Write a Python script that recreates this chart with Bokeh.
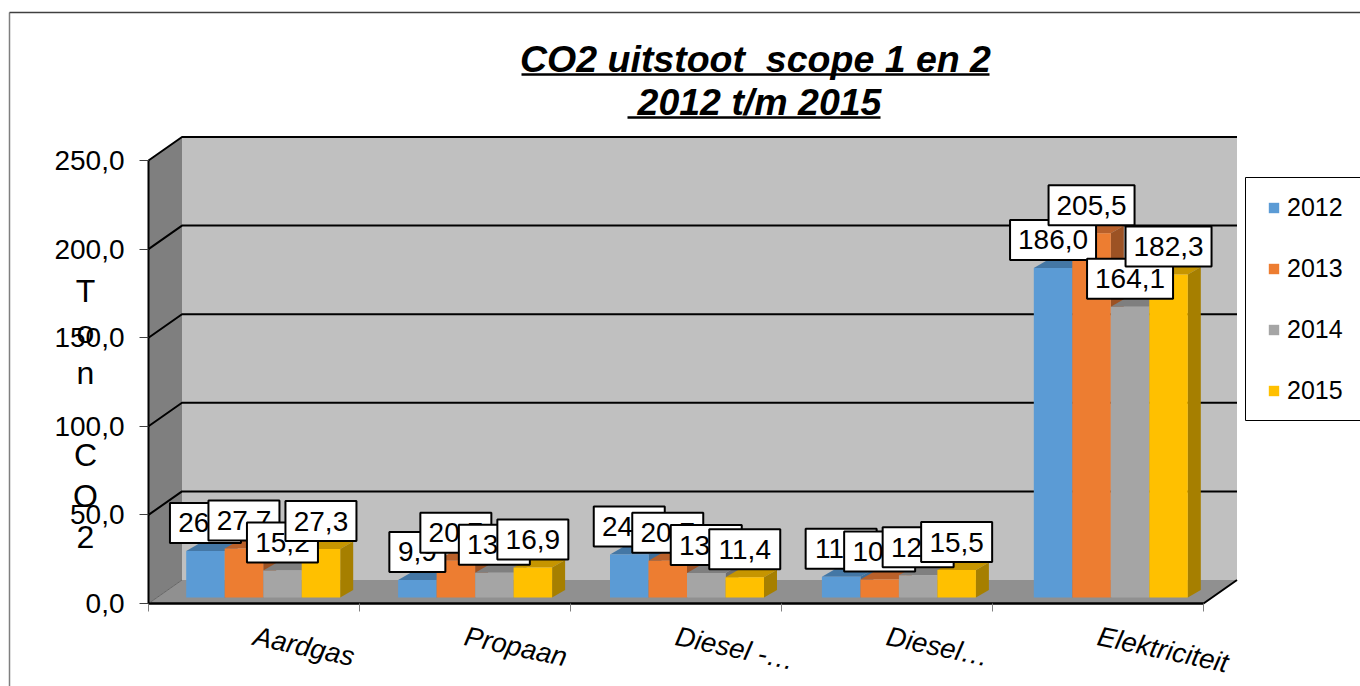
from bokeh.plotting import figure
from bokeh.embed import file_html
from bokeh.resources import INLINE
from bokeh.core.properties import value
from bokeh.models import FixedTicker, Legend, LegendItem

categories = ["Aardgas", "Propaan", "Diesel -…", "Diesel…", "Elektriciteit"]
years = ["2012", "2013", "2014", "2015"]
s2012 = [26.3, 9.9, 24.3, 11.7, 186.0]
s2013 = [27.7, 20.7, 20.7, 10.2, 205.5]
s2014 = [15.2, 13.9, 13.8, 12.6, 164.1]
s2015 = [27.3, 16.9, 11.4, 15.5, 182.3]
series = [s2012, s2013, s2014, s2015]
y_ticks = [0, 50, 100, 150, 200, 250]
y_labels = ["0,0", "50,0", "100,0", "150,0", "200,0", "250,0"]
front = ["#5B9BD5", "#ED7D31", "#A5A5A5", "#FFC000"]
top = ["#4477A5", "#B9602A", "#7F7F7F", "#C69500"]
side = ["#3F6F9B", "#9C5224", "#6E6E6E", "#A67F00"]
FONT = value("Liberation Sans")

# pixel geometry of the chart
W, H = 1360, 686
X0, PX_X = 148.0, 211.0
Y0, PX_Y = 603.0, 1.772
def px(x): return (x - X0) / PX_X
def py(y): return (Y0 - y) / PX_Y

p = figure(width=W, height=H, output_backend="svg", toolbar_location=None,
           x_range=(px(0), px(W)), y_range=(py(H), py(0)),
           min_border=0, outline_line_color=None, background_fill_color="white")
p.grid.visible = False

DX_W, DY_W = 33.5 / PX_X, 23.5 / PX_Y      # depth of the walls
DX_B, DY_B = 13 / PX_X, 7.5 / PX_Y         # depth of a bar
BASE = 6 / PX_Y
BAR = 38.5 / PX_X
GROUP_PITCH = 211.9 / PX_X
G0 = 37.7 / PX_X

# chart frame
p.line([px(9), px(9)], [py(686), py(12)], line_color="#7F7F7F", line_width=1.5)
p.line([px(9), px(1360)], [py(12), py(12)], line_color="#404040", line_width=1.5)

# walls
n = len(categories)
p.patch([0, DX_W, DX_W, 0], [0, DY_W, 250 + DY_W, 250], fill_color="#7F7F7F", line_color=None)
p.patch([DX_W, n + DX_W, n + DX_W, DX_W], [DY_W, DY_W, 250 + DY_W, 250 + DY_W], fill_color="#C0C0C0", line_color=None)
p.patch([0, n, n + DX_W, DX_W], [0, 0, DY_W, DY_W], fill_color="#909090", line_color=None)
for t in y_ticks[1:]:
    p.line([0, DX_W, n + DX_W], [t, t + DY_W, t + DY_W], line_color="black", line_width=2)
p.line([0, n, n + DX_W], [0, 0, DY_W], line_color="black", line_width=2)
p.line([0, DX_W], [0, DY_W], line_color="#666666", line_width=1)

# bars
legend_r = {}
for i in range(n):
    for j, s in enumerate(series):
        l = i * GROUP_PITCH + G0 + j * BAR
        r = l + BAR
        v = s[i] + BASE
        p.patch([l, r, r + DX_B, l + DX_B], [v, v, v + DY_B, v + DY_B], fill_color=top[j], line_color=None)
        p.patch([r, r + DX_B, r + DX_B, r], [BASE, BASE + DY_B, v + DY_B, v], fill_color=side[j], line_color=None)
        legend_r[j] = p.vbar(x=[(l + r) / 2], width=BAR, bottom=BASE, top=[v], fill_color=front[j], line_color=None)

# data labels
for i in range(n):
    for j, s in enumerate(series):
        x = i * GROUP_PITCH + G0 + (j + 0.5) * BAR
        y = s[i] + BASE + 28 / PX_Y
        txt = f"{s[i]:.1f}".replace(".", ",")
        w = {3: 56, 4: 71, 5: 86}[len(txt)]
        p.rect(x=[x], y=[y], width=w, height=40, width_units="screen", height_units="screen",
               fill_color="white", line_color="black", line_width=2)
        p.text(x=[x], y=[y], text=[txt], text_font=FONT, text_font_size="28px",
               text_align="center", text_baseline="middle", text_color="black")

# axes
ya = p.yaxis[0]
ya.fixed_location = 0
ya.bounds = (0, 250)
ya.ticker = FixedTicker(ticks=y_ticks)
ya.major_label_overrides = dict(zip(y_ticks, y_labels))
ya.major_label_text_font = "Liberation Sans"
ya.major_label_text_font_size = "28px"
ya.major_label_text_color = "black"
ya.major_label_standoff = 15
ya.major_tick_in = 0
ya.major_tick_out = 9
ya.major_tick_line_color = "#404040"
ya.minor_tick_line_color = None
ya.axis_line_color = "black"
ya.axis_line_width = 2

xa = p.xaxis[0]
xa.fixed_location = 0
xa.bounds = (0, n)
xa.ticker = FixedTicker(ticks=[i + 0.5 for i in range(n)], minor_ticks=list(range(n + 1)))
xa.major_label_overrides = {i + 0.5: c for i, c in enumerate(categories)}
xa.major_label_orientation = -0.21
xa.major_label_text_font = "Liberation Sans"
xa.major_label_text_font_style = "italic"
xa.major_label_text_font_size = "27.5px"
xa.major_label_text_color = "black"
xa.major_label_standoff = 24
xa.major_tick_in = 0
xa.major_tick_out = 0
xa.minor_tick_in = 0
xa.minor_tick_out = 8
xa.minor_tick_line_color = "#808080"
xa.axis_line_color = "black"
xa.axis_line_width = 2

# y axis title, stacked
p.text(x=[px(85)], y=[py(272)], text=["T\no\nn\n \nC\nO\n2"], text_font=FONT, text_font_size="32px",
       text_align="center", text_baseline="top", text_color="black", text_line_height=1.14)

# title
for txt, cx, cy, ul_y, ul0, ul1 in [("CO2 uitstoot\u00a0\u00a0scope 1 en 2", 755, 58, 74, 521, 989),
                                    ("2012 t/m 2015", 759, 101.5, 117, 627, 880)]:
    p.text(x=[px(cx)], y=[py(cy)], text=[txt], text_font=FONT, text_font_style="bold italic",
           text_font_size="37.5px", text_align="center", text_baseline="middle", text_color="black")
    p.line([px(ul0), px(ul1)], [py(ul_y), py(ul_y)], line_color="black", line_width=2.5)

# legend box, then the legend itself
p.quad(left=[px(1245)], right=[px(1400)], bottom=[py(420)], top=[py(177)],
       fill_color="white", line_color="black", line_width=1)
leg = Legend(items=[LegendItem(label=value(y), renderers=[legend_r[j]]) for j, y in enumerate(years)],
             location=(1267, H - 405), orientation="vertical",
             glyph_width=13, glyph_height=13, label_standoff=7, padding=24, margin=0,
             spacing=31, label_text_font="Liberation Sans", label_text_font_size="25px",
             label_text_color="black", border_line_color=None,
             background_fill_alpha=0, label_height=30)
p.add_layout(leg)

open("out.html", "w").write(file_html(p, INLINE))
